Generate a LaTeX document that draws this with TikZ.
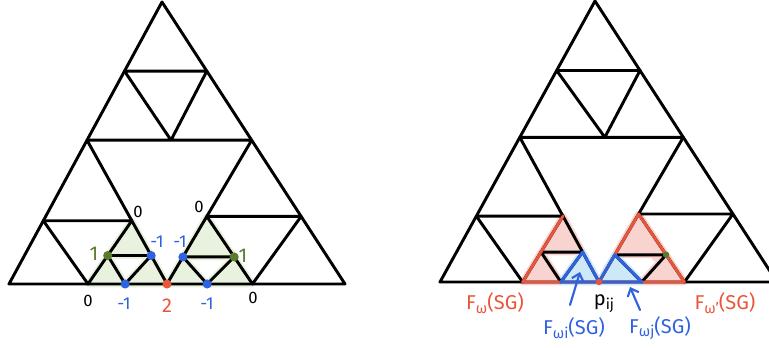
\documentclass[tikz,border=0pt]{standalone}
\usepackage{fontspec}
\setmainfont{Fira Sans}
\usetikzlibrary{calc,arrows.meta}
\definecolor{myred}{HTML}{E9553A}
\definecolor{myblue}{HTML}{2F62E0}
\definecolor{olivec}{HTML}{5B7B2C}
\definecolor{gfill}{HTML}{E8F2DF}
\definecolor{pfill}{HTML}{F8D3CF}
\definecolor{bfill}{HTML}{CDE8F6}
\newcommand{\sbs}[1]{\raisebox{-0.35ex}{\fontsize{11}{11}\selectfont #1}}
\begin{document}
\begin{tikzpicture}[x=0.75pt,y=-0.75pt,line join=round,line cap=round,
  edge/.style={line width=2.2pt},
  blob/.style={line width=5pt},
  bigdot/.style={circle,inner sep=0pt,minimum size=6.8pt},
  smalldot/.style={circle,inner sep=0pt,minimum size=4.8pt},
  lab/.style={inner sep=0pt,font=\fontsize{12.5}{12.5}\selectfont},
  labm/.style={inner sep=0pt,font=\fontsize{13}{13}\selectfont},
  labb/.style={inner sep=0pt,font=\fontsize{15}{15}\selectfont},
  arr/.style={line width=1.6pt,myblue,-{Straight Barb[length=5pt,width=9pt]}}]
\useasboundingbox (0,0) rectangle (769,347);
\clip (0,0) rectangle (769,347);

% ---------- left gasket ----------
\coordinate (lA) at (162,2);
\coordinate (lBL) at (9,284);
\coordinate (lBR) at (345,284);
\coordinate (lM1) at (167,284);
\coordinate (lL1) at ($(lA)!0.49!(lBL)$);
\coordinate (lR1) at ($(lA)!0.49!(lBR)$);
\coordinate (lT1) at ($(lA)!0.5!(lL1)$);
\coordinate (lT2) at ($(lA)!0.5!(lR1)$);
\coordinate (lT3) at ($(lL1)!0.51!(lR1)$);
\coordinate (lP1) at ($(lL1)!0.56!(lBL)$);
\coordinate (lP2) at ($(lL1)!0.56!(lM1)$);
\coordinate (lP3) at ($(lBL)!0.5!(lM1)$);
\coordinate (lQ1) at ($(lR1)!0.53!(lM1)$);
\coordinate (lQ2) at ($(lR1)!0.53!(lBR)$);
\coordinate (lQ3) at ($(lM1)!0.48!(lBR)$);
\coordinate (lS1) at ($(lP2)!0.55!(lP3)$);
\coordinate (lS2) at ($(lP2)!0.55!(lM1)$);
\coordinate (lS3) at ($(lP3)!0.47!(lM1)$);
\coordinate (lU1) at ($(lQ1)!0.6!(lM1)$);
\coordinate (lU2) at ($(lQ1)!0.6!(lQ3)$);
\coordinate (lU3) at ($(lM1)!0.47!(lQ3)$);

% green fills
\filldraw[gfill,blob] (lP2) -- (lS1) -- (lS2) -- cycle;
\filldraw[gfill,blob] (lS1) -- (lP3) -- (lS3) -- cycle;
\filldraw[gfill,blob] (lS2) -- (lS3) -- (lM1) -- cycle;
\filldraw[gfill,blob] (lQ1) -- (lU1) -- (lU2) -- cycle;
\filldraw[gfill,blob] (lU1) -- (lM1) -- (lU3) -- cycle;
\filldraw[gfill,blob] (lU2) -- (lU3) -- (lQ3) -- cycle;

\draw[edge] (lA) -- (lBL) -- (lBR) -- cycle;
\draw[edge] (lL1) -- (lR1) (lT1) -- (lT2) -- (lT3) -- cycle (lL1) -- (lM1) -- (lR1);
\draw[edge] (lP1) -- (lP2) -- (lP3) -- cycle;
\draw[edge] (lQ1) -- (lQ2) -- (lQ3) -- cycle;
\draw[edge] (lS1) -- (lS2) -- (lS3) -- cycle;
\draw[edge] (lU1) -- (lU2) -- (lU3) -- cycle;

\node[bigdot,fill=olivec] (dS1) at (lS1) {};
\node[bigdot,fill=olivec] (dU2) at (lU2) {};
\node[bigdot,fill=myblue] (dS2) at (lS2) {};
\node[bigdot,fill=myblue] (dS3) at (lS3) {};
\node[bigdot,fill=myblue] (dU1) at (lU1) {};
\node[bigdot,fill=myblue] (dU3) at (lU3) {};
\node[bigdot,fill=myred] (dM1) at (lM1) {};

\node[lab] (z1) at (88,301) {0};
\node[labm,myblue] (m1) at (124,304) {-1};
\node[labb,myred] (two) at (167,306) {2};
\node[labm,myblue] (m2) at (207,304) {-1};
\node[lab] (z2) at (253,298) {0};
\node[lab] (z3) at (138,212) {0};
\node[lab] (z4) at (199,207) {0};
\node[labm,myblue] (m3) at (157,242) {-1};
\node[labm,myblue] (m4) at (180,242) {-1};
\node[labb,olivec] (o1) at (94,254) {1};
\node[labb,olivec] (o2) at (243,256) {1};

% ---------- right gasket ----------
\coordinate (rA) at (595,1);
\coordinate (rBL) at (440,282);
\coordinate (rBR) at (777,282);
\coordinate (rM1) at (599,282);
\coordinate (rL1) at ($(rA)!0.485!(rBL)$);
\coordinate (rR1) at ($(rA)!0.485!(rBR)$);
\coordinate (rT1) at ($(rA)!0.51!(rL1)$);
\coordinate (rT2) at ($(rA)!0.51!(rR1)$);
\coordinate (rT3) at ($(rL1)!0.52!(rR1)$);
\coordinate (rP1) at ($(rL1)!0.545!(rBL)$);
\coordinate (rP2) at ($(rL1)!0.545!(rM1)$);
\coordinate (rP3) at ($(rBL)!0.52!(rM1)$);
\coordinate (rQ1) at ($(rR1)!0.53!(rM1)$);
\coordinate (rQ2) at ($(rR1)!0.53!(rBR)$);
\coordinate (rQ3) at ($(rM1)!0.48!(rBR)$);
\coordinate (rS1) at ($(rP2)!0.545!(rP3)$);
\coordinate (rS2) at ($(rP2)!0.545!(rM1)$);
\coordinate (rS3) at ($(rP3)!0.5!(rM1)$);
\coordinate (rU1) at ($(rQ1)!0.6!(rM1)$);
\coordinate (rU2) at ($(rQ1)!0.6!(rQ3)$);
\coordinate (rU3) at ($(rM1)!0.5!(rQ3)$);

% pink and blue fills
\filldraw[pfill,blob] (rP2) -- (rS1) -- (rS2) -- cycle;
\filldraw[pfill,blob] (rS1) -- (rP3) -- (rS3) -- cycle;
\filldraw[pfill,blob] (rQ1) -- (rU1) -- (rU2) -- cycle;
\filldraw[pfill,blob] (rU2) -- (rU3) -- (rQ3) -- cycle;
\fill[pfill] (657,252) ellipse (7 and 10);
\filldraw[bfill,blob] (rS2) -- (rS3) -- (rM1) -- cycle;
\filldraw[bfill,blob] (rU1) -- (rM1) -- (rU3) -- cycle;

\draw[edge] (rA) -- (rBL) -- (rBR) -- cycle;
\draw[edge] (rL1) -- (rR1) (rT1) -- (rT2) -- (rT3) -- cycle (rL1) -- (rM1) -- (rR1);
\draw[edge] (rP1) -- (rP2) -- (rP3) -- cycle;
\draw[edge] (rQ1) -- (rQ2) -- (rQ3) -- cycle;
\draw[edge] (rS1) -- (rS2) -- (rS3) -- cycle;
\draw[edge] (rU1) -- (rU2) -- (rU3) -- cycle;

% red and blue outlines
\draw[edge,myred] (rP2) -- (rP3) -- (rQ3) -- (rQ1) -- (rM1);
\draw[edge,myblue] (rS2) -- (rS3) -- (rM1) -- cycle;
\draw[edge,myblue] (rU1) -- (rM1) -- (rU3) -- cycle;

\node[smalldot,fill=myred] (pij) at (rM1) {};
\node[smalldot,fill=olivec] (gdot) at (rU2) {};

\node[labb,myred] (Fw) at (495,303) {F\sbs{ω}(SG)};
\node[labb,myred] (Fwp) at (725,303) {F\sbs{ω'}(SG)};
\node[labb] (plab) at (604,304) {p\sbs{ij}};
\node[labb,myblue] (Fwi) at (574,328) {F\sbs{ωi}(SG)};
\node[labb,myblue] (Fwj) at (660,328) {F\sbs{ωj}(SG)};

\coordinate (a1s) at (570,305);
\coordinate (a1e) at (580,272);
\coordinate (a2s) at (640,310);
\coordinate (a2e) at (630,287);
\draw[arr] (a1s) -- (a1e);
\draw[arr] (a2s) -- (a2e);
\end{tikzpicture}
\end{document}
